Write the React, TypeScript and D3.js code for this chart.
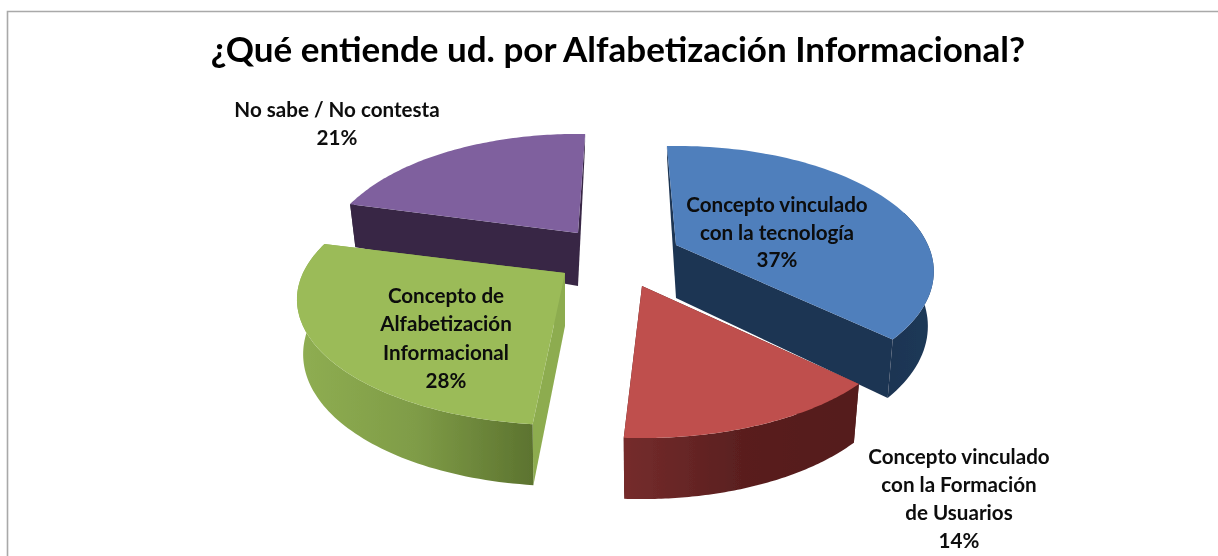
import React from "react";
import * as d3 from "d3";

// ---- data ----
const categories = [
  "Concepto vinculado con la tecnología",
  "Concepto vinculado con la Formación de Usuarios",
  "Concepto de Alfabetización Informacional",
  "No sabe / No contesta",
];
const values = [37, 14, 28, 21];
const chartTitle = "¿Qué entiende ud. por Alfabetización Informacional?";
const labelLines = [
  ["Concepto vinculado", "con la tecnología", "37%"],
  ["Concepto vinculado", "con la Formación", "de Usuarios", "14%"],
  ["Concepto de", "Alfabetización", "Informacional", "28%"],
  ["No sabe / No contesta", "21%"],
];

// ---- layout & style ----
const W = 1218;
const H = 556;
const centres = [[676, 245], [642, 286], [565, 273], [578, 233]];
const radii = [252, 258, 262, 248];
const startNudge = [-2.5, 1, 2, 0.2];
const endNudge = [-0.7, -0.4, 0.3, 2];
const labelAnchors = [[777, 212], [959, 464], [446, 303], [337, 117]];
const labelGaps = [27.5, 28, 28.4, 28];
const topColors = ["#4f7fbc", "#bf504d", "#9bbb59", "#7f609e"];
const cutColors = ["#1f3552", "#4f1a1a", "#8dac50", "#382845"];
const wallStops = [
  ["#1f3552", "#1f3858"],
  ["#752c2c", "#5a1f1f", "#541c1c"],
  ["#8fae52", "#7f9c47", "#5c732f"],
  ["#382845", "#382845"],
];
const paintOrder = [3, 0, 2, 1];
const PERSP = 0.211;
const RY = 120;
const BOTTOM_X = 0.977;
const depthScale = d3.scaleLinear().domain([-1, 0, 1]).range([13, 53, 61]);

const pieGen = d3.pie<number>().sort(null).value((d) => d).startAngle(0).endAngle(2 * Math.PI);
const arcs = pieGen(values);
const line = d3.line<number[]>().x((p) => p[0]).y((p) => p[1]);
const closed = (pts: number[][]) => line(pts) + "Z";
const rad = (deg: number) => (deg * Math.PI) / 180;

function rim(i: number, a: number, bottom: boolean) {
  const [cx, cy] = centres[i];
  const u = Math.sin(a);
  const v = -Math.cos(a);
  const s = 1 / (1 - PERSP * v);
  const x = radii[i] * u * s;
  const y = RY * v * s;
  return bottom
    ? [cx + x * BOTTOM_X, cy + y + depthScale(v)]
    : [cx + x, cy + y];
}

export default function App() {
  return (
    <svg
      width={W}
      height={H}
      viewBox={`0 0 ${W} ${H}`}
      style={{ position: "absolute", left: 0, top: 0, background: "#fff", display: "block" }}
    >
      <defs>
        <filter id="soft" x="-2%" y="-2%" width="104%" height="104%">
          <feGaussianBlur stdDeviation="0.45" />
        </filter>
        {wallStops.map((stops, i) => (
          <linearGradient key={i} id={`wall${i}`} x1="0" x2="1" y1="0" y2="0">
            {stops.map((c, j) => (
              <stop key={j} offset={j / (stops.length - 1)} stopColor={c} />
            ))}
          </linearGradient>
        ))}
      </defs>
      <g filter="url(#soft)">
        <path d={`M7.5 556V11.5H${W}`} fill="none" stroke="#a9a9a9" strokeWidth={1.6} />
        {paintOrder.map((i) => {
          const d = arcs[i];
          const a0 = d.startAngle + rad(startNudge[i]);
          const a1 = d.endAngle + rad(endNudge[i]);
          const samples = d3.range(0, 81).map((k) => a0 + ((a1 - a0) * k) / 80);
          const [cx, cy] = centres[i];
          const apexB = [cx, cy + depthScale(0)];
          const visible = samples.filter((a) => -Math.cos(a) > -0.3);
          const wall = visible.length > 1
            ? [...visible.map((a) => rim(i, a, false)), ...visible.slice().reverse().map((a) => rim(i, a, true))]
            : null;
          const cut = (a: number) => [[cx, cy], rim(i, a, false), rim(i, a, true), apexB];
          const top = [[cx, cy], ...samples.map((a) => rim(i, a, false))];
          return (
            <g key={i} aria-label={categories[i]}>
              <path d={closed(cut(a0))} fill={cutColors[i]} />
              <path d={closed(cut(a1))} fill={cutColors[i]} />
              {wall && <path d={closed(wall)} fill={`url(#wall${i})`} />}
              <path d={closed(top)} fill={topColors[i]} />
            </g>
          );
        })}
        <text
          x={618}
          y={62}
          textAnchor="middle"
          fontFamily="Lato, 'Open Sans', sans-serif"
          fontWeight={700}
          fontSize={35}
          fill="#000"
        >
          {chartTitle}
        </text>
        {labelLines.map((lines, i) => (
          <text
            key={i}
            textAnchor="middle"
            fontFamily="Lato, 'Open Sans', sans-serif"
            fontWeight={700}
            fontSize={20.6}
            fill="#0b0b0b"
          >
            {lines.map((t, j) => (
              <tspan key={j} x={labelAnchors[i][0]} y={labelAnchors[i][1] + j * labelGaps[i]}>
                {t}
              </tspan>
            ))}
          </text>
        ))}
      </g>
    </svg>
  );
}
